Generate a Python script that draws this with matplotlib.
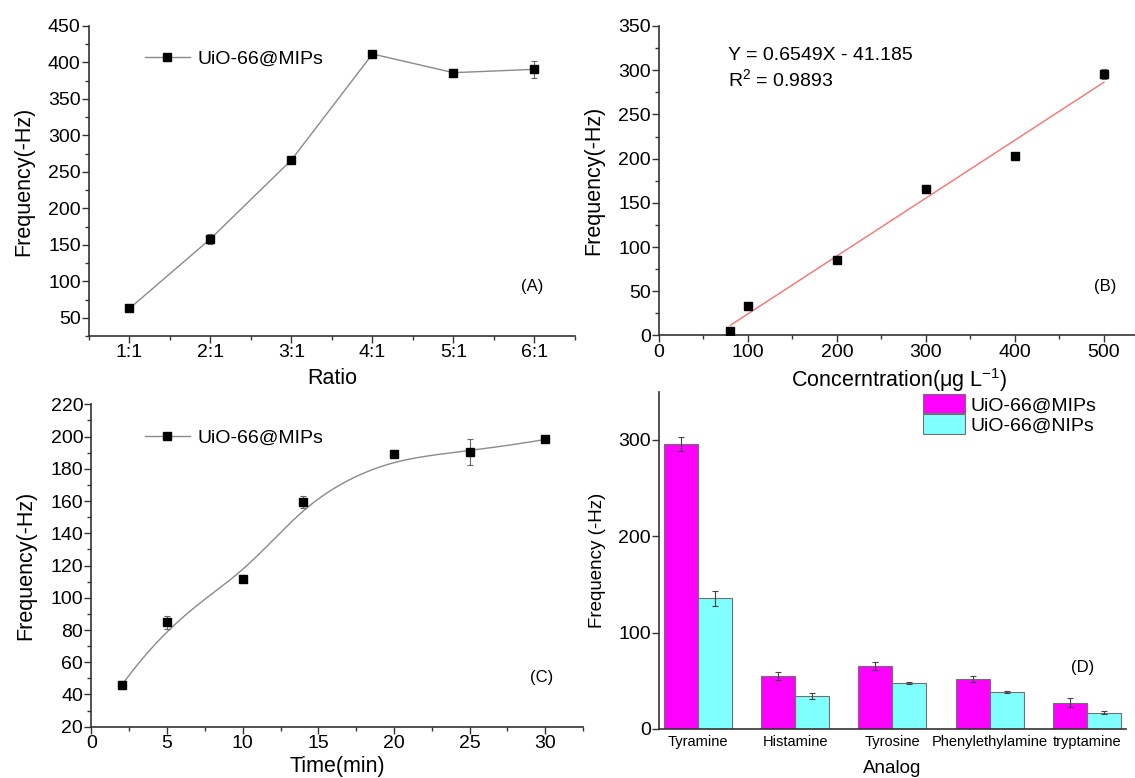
import matplotlib
matplotlib.use("Agg")
import matplotlib.pyplot as plt
import numpy as np
from matplotlib.ticker import MultipleLocator

plt.rcParams["font.family"] = ["Liberation Sans", "DejaVu Sans"]
plt.rcParams["mathtext.fontset"] = "custom"
plt.rcParams["mathtext.rm"] = "Liberation Sans"
plt.rcParams["mathtext.it"] = "Liberation Sans:italic"

# (A) template : monomer ratio
ratio_labels = ["1:1", "2:1", "3:1", "4:1", "5:1", "6:1"]
ratio_freq = [62.8, 158.2, 266.4, 411.6, 386.0, 390.6]
ratio_err = [2.0, 7.0, 4.0, 1.5, 2.0, 12.0]

# (B) calibration
conc = [80, 100, 200, 300, 400, 500]
conc_freq = [5.3, 33.5, 85.8, 165.6, 202.5, 295.8]
conc_err = [2.0, 3.0, 4.0, 5.0, 3.0, 6.0]

# (C) adsorption time
time_min = [2, 5, 10, 14, 20, 25, 30]
time_freq = [45.7, 84.7, 111.9, 159.4, 189.0, 190.3, 198.2]
time_err = [2.5, 4.0, 2.0, 4.0, 1.0, 8.0, 1.0]

# (D) selectivity
analogs = ["Tyramine", "Histamine", "Tyrosine", "Phenylethylamine", "tryptamine"]
mip_freq = [296.0, 54.7, 65.7, 51.9, 27.3]
mip_err = [7.0, 4.0, 4.0, 3.0, 4.5]
nip_freq = [135.6, 33.9, 47.4, 38.4, 17.0]
nip_err = [8.0, 3.0, 1.0, 1.5, 1.5]

LINE_GREY = "#8a8a8a"
ERR_GREY = "#666666"
SPINE = "#333333"
TICK_FS = 14
LABEL_FS = 15.5
LEG_FS = 14
MS = 6.2


def bspline(xs, ys, n=300, k=3):
    """Clamped cubic B-spline using the data points as control points."""
    P = np.column_stack([xs, ys])
    m = len(P)
    t = np.concatenate([np.zeros(k), np.linspace(0, 1, m - k + 1), np.ones(k)])
    u = np.linspace(0, 1, n)
    B = np.zeros((n, len(t) - 1))
    for i in range(len(t) - 1):
        B[:, i] = (u >= t[i]) & (u < t[i + 1])
    B[-1, m - 1] = 1.0
    for p in range(1, k + 1):
        Bn = np.zeros((n, len(t) - 1 - p))
        for i in range(len(t) - 1 - p):
            d1 = t[i + p] - t[i]
            d2 = t[i + p + 1] - t[i + 1]
            a = (u - t[i]) / d1 * B[:, i] if d1 > 0 else 0.0
            b = (t[i + p + 1] - u) / d2 * B[:, i + 1] if d2 > 0 else 0.0
            Bn[:, i] = a + b
        B = Bn
    c = B @ P
    return c[:, 0], c[:, 1]


def style(ax, ticklen=5):
    for s in ("top", "right"):
        ax.spines[s].set_visible(False)
    for s in ("left", "bottom"):
        ax.spines[s].set_color(SPINE)
        ax.spines[s].set_linewidth(1.2)
    ax.tick_params(which="major", direction="out", length=ticklen, width=1.0,
                   color=SPINE, labelsize=TICK_FS, pad=1)
    ax.tick_params(which="minor", direction="out", length=3, width=1.0,
                   color=SPINE)


fig = plt.figure(figsize=(11.35, 7.78), dpi=100)
axA = fig.add_axes([0.0784, 0.5681, 0.4282, 0.3985])
axB = fig.add_axes([0.5806, 0.5688, 0.4234, 0.3978])
axC = fig.add_axes([0.0806, 0.0659, 0.4330, 0.4144])
axD = fig.add_axes([0.5806, 0.0630, 0.4112, 0.4335])

# ---------------- (A) ----------------
xa = np.arange(1, len(ratio_labels) + 1)
axA.errorbar(xa, ratio_freq, yerr=ratio_err, fmt="none", ecolor=ERR_GREY,
             elinewidth=0.8, capsize=2.5, capthick=0.8, zorder=2)
axA.plot(xa, ratio_freq, "-s", color=LINE_GREY, lw=1.0, mfc="black",
         mec="black", ms=MS, label="UiO-66@MIPs", zorder=3)
axA.set_xlim(0.5, 6.5)
axA.set_ylim(25, 450)
axA.set_xticks(xa)
axA.set_xticklabels(ratio_labels)
axA.xaxis.set_minor_locator(MultipleLocator(0.5))
axA.yaxis.set_minor_locator(MultipleLocator(25))
axA.set_yticks(np.arange(50, 451, 50))
style(axA)
axA.set_xlabel("Ratio", fontsize=LABEL_FS)
axA.set_ylabel("Frequency(-Hz)", fontsize=LABEL_FS)
axA.xaxis.set_label_coords(0.5, -0.103)
axA.yaxis.set_label_coords(-0.113, 0.5)
axA.legend(loc="center left", bbox_to_anchor=(0.115, 0.894), frameon=False,
           fontsize=LEG_FS, handlelength=2.3, handletextpad=0.4,
           borderpad=0, borderaxespad=0)
axA.text(0.911, 0.161, "(A)", transform=axA.transAxes, ha="center",
         va="center", fontsize=12)

# ---------------- (B) ----------------
slope, intercept = np.polyfit(conc, conc_freq, 1)
xfit = np.array([min(conc), max(conc)])
axB.plot(xfit, slope * xfit + intercept, color="#ff6f6f", lw=1.0, zorder=1)
axB.errorbar(conc, conc_freq, yerr=conc_err, fmt="s", color="black", ms=MS,
             ecolor=ERR_GREY, elinewidth=0.8, capsize=2.5, capthick=0.8,
             zorder=3)
axB.set_xlim(0, 540)
axB.set_ylim(0, 350)
axB.xaxis.set_major_locator(MultipleLocator(100))
axB.xaxis.set_minor_locator(MultipleLocator(50))
axB.yaxis.set_major_locator(MultipleLocator(50))
axB.yaxis.set_minor_locator(MultipleLocator(25))
style(axB)
axB.set_xlabel(r"Concerntration(μg L$^{-1}$)", fontsize=LABEL_FS)
axB.set_ylabel("Frequency(-Hz)", fontsize=LABEL_FS)
axB.xaxis.set_label_coords(0.5, -0.099)
axB.yaxis.set_label_coords(-0.113, 0.5)
axB.text(0.144, 0.904, "Y = 0.6549X - 41.185", transform=axB.transAxes,
         ha="left", va="center", fontsize=14)
axB.text(0.144, 0.829, "R$^{2}$ = 0.9893", transform=axB.transAxes,
         ha="left", va="center", fontsize=14)
axB.text(0.929, 0.158, "(B)", transform=axB.transAxes, ha="center",
         va="center", fontsize=12)

# ---------------- (C) ----------------
sx, sy = bspline(time_min, time_freq)
axC.plot(sx, sy, color=LINE_GREY, lw=1.0, zorder=2)
axC.errorbar(time_min, time_freq, yerr=time_err, fmt="none", ecolor=ERR_GREY,
             elinewidth=0.8, capsize=2.5, capthick=0.8, zorder=2)
axC.plot(time_min, time_freq, "s", color="black", ms=MS, zorder=3)
# legend proxy: grey line with black square
axC.plot([], [], "-s", color=LINE_GREY, lw=1.0, mfc="black", mec="black",
         ms=MS, label="UiO-66@MIPs")
axC.set_xlim(0, 32.5)
axC.set_ylim(20, 220)
axC.xaxis.set_major_locator(MultipleLocator(5))
axC.xaxis.set_minor_locator(MultipleLocator(2.5))
axC.yaxis.set_major_locator(MultipleLocator(20))
axC.yaxis.set_minor_locator(MultipleLocator(10))
style(axC)
axC.set_xlabel("Time(min)", fontsize=LABEL_FS)
axC.set_ylabel("Frequency(-Hz)", fontsize=LABEL_FS)
axC.xaxis.set_label_coords(0.5, -0.091)
axC.yaxis.set_label_coords(-0.113, 0.5)
axC.legend(loc="center left", bbox_to_anchor=(0.109, 0.896), frameon=False,
           fontsize=LEG_FS, handlelength=2.3, handletextpad=0.4,
           borderpad=0, borderaxespad=0)
axC.text(0.916, 0.152, "(C)", transform=axC.transAxes, ha="center",
         va="center", fontsize=12)

# ---------------- (D) ----------------
xd = np.arange(len(analogs))
w = 0.35
axD.bar(xd - w / 2, mip_freq, w, color="#ff00ff", edgecolor="#707070",
        linewidth=0.8, label="UiO-66@MIPs", zorder=2)
axD.bar(xd + w / 2, nip_freq, w, color="#80ffff", edgecolor="#707070",
        linewidth=0.8, label="UiO-66@NIPs", zorder=2)
axD.errorbar(xd - w / 2, mip_freq, yerr=mip_err, fmt="none", ecolor="#444444",
             elinewidth=0.8, capsize=2.5, capthick=0.8, zorder=3)
axD.errorbar(xd + w / 2, nip_freq, yerr=nip_err, fmt="none", ecolor="#444444",
             elinewidth=0.8, capsize=2.5, capthick=0.8, zorder=3)
axD.set_xlim(-0.4, 4.4)
axD.set_ylim(0, 350)
axD.set_xticks(xd)
axD.set_xticklabels(analogs)
axD.set_yticks([0, 100, 200, 300])
style(axD)
axD.tick_params(axis="x", length=0, labelsize=10.5, pad=4)
axD.set_xlabel("Analog", fontsize=13.5)
axD.set_ylabel("Frequency (-Hz)", fontsize=13.5)
axD.xaxis.set_label_coords(0.5, -0.092)
axD.yaxis.set_label_coords(-0.114, 0.5)
axD.legend(loc="upper left", bbox_to_anchor=(0.565, 0.993), frameon=False,
           fontsize=LEG_FS, handlelength=2.2, handleheight=1.15,
           handletextpad=0.25, labelspacing=0, borderpad=0, borderaxespad=0)
axD.text(0.908, 0.183, "(D)", transform=axD.transAxes, ha="center",
         va="center", fontsize=12)

fig.savefig("out.png", dpi=100)
